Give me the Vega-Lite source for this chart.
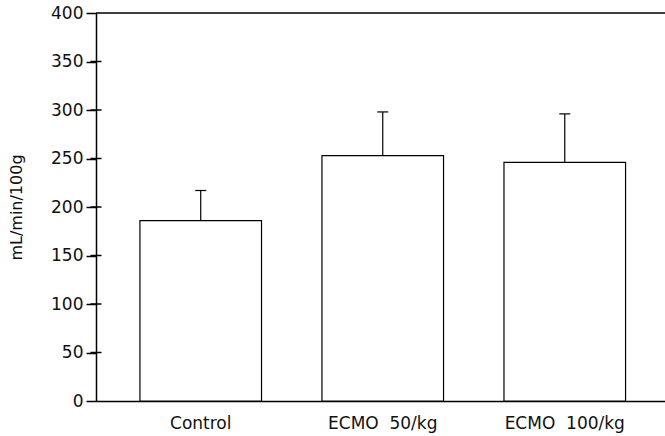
{
  "$schema": "https://vega.github.io/schema/vega-lite/v6.json",
  "width": 569,
  "height": 388,
  "autosize": {"type": "none"},
  "padding": {"left": 96, "top": 13, "right": 0, "bottom": 35},
  "background": "white",
  "config": {"view": {"stroke": null}, "font": "DejaVu Sans"},
  "datasets": {
    "bars": [
      {"group": "Control", "mean": 186, "upper": 217},
      {"group": "ECMO\u00a0 50/kg", "mean": 253, "upper": 298},
      {"group": "ECMO\u00a0 100/kg", "mean": 246, "upper": 296}
    ],
    "yticks": [{"v": 50}, {"v": 100}, {"v": 150}, {"v": 200}, {"v": 250}, {"v": 300}, {"v": 350}],
    "frame": [{"top": 400}]
  },
  "data": {"name": "bars"},
  "resolve": {"scale": {"x": "independent"}},
  "layer": [
    {
      "mark": {"type": "bar", "fill": "white", "stroke": "black", "strokeWidth": 1.2},
      "encoding": {
        "x": {"field": "group", "type": "nominal", "sort": null,
          "scale": {"paddingInner": 0.332, "paddingOuter": 0.229, "align": 0.527},
          "axis": {"title": null, "labelAngle": 0, "ticks": false, "domainColor": "black", "domainWidth": 1.5, "labelPadding": 14, "labelFontSize": 17, "labelColor": "#111"}},
        "y": {"field": "mean", "type": "quantitative", "scale": {"domain": [0, 400]},
          "axis": {"title": "mL/min/100g", "values": [0, 50, 100, 150, 200, 250, 300, 350, 400], "grid": false,
            "tickSize": 10, "tickWidth": 1.5, "tickColor": "black", "domainColor": "black", "domainWidth": 1.5,
            "labelFontSize": 17, "labelPadding": 3, "labelColor": "#111",
            "titleFontSize": 16, "titleFontWeight": "normal", "titleColor": "#111", "titlePadding": 26}}
      }
    },
    {
      "mark": {"type": "rule", "color": "black", "strokeWidth": 1.2},
      "encoding": {
        "x": {"field": "group", "type": "nominal", "sort": null,
          "scale": {"paddingInner": 0.332, "paddingOuter": 0.229, "align": 0.527}, "axis": null},
        "y": {"field": "mean", "type": "quantitative"},
        "y2": {"field": "upper"}
      }
    },
    {
      "mark": {"type": "tick", "orient": "horizontal", "size": 11, "thickness": 1.2, "color": "black", "opacity": 1},
      "encoding": {
        "x": {"field": "group", "type": "nominal", "sort": null,
          "scale": {"paddingInner": 0.332, "paddingOuter": 0.229, "align": 0.527}, "axis": null},
        "y": {"field": "upper", "type": "quantitative"}
      }
    },
    {
      "data": {"name": "yticks"},
      "mark": {"type": "tick", "orient": "horizontal", "size": 11, "thickness": 1.5, "color": "black", "opacity": 1},
      "encoding": {
        "x": {"datum": 0, "type": "quantitative", "scale": {"domain": [0, 1]}, "axis": null},
        "y": {"field": "v", "type": "quantitative"}
      }
    },
    {
      "data": {"name": "frame"},
      "mark": {"type": "rule", "color": "black", "strokeWidth": 1.5},
      "encoding": {
        "y": {"field": "top", "type": "quantitative"}
      }
    }
  ]
}
